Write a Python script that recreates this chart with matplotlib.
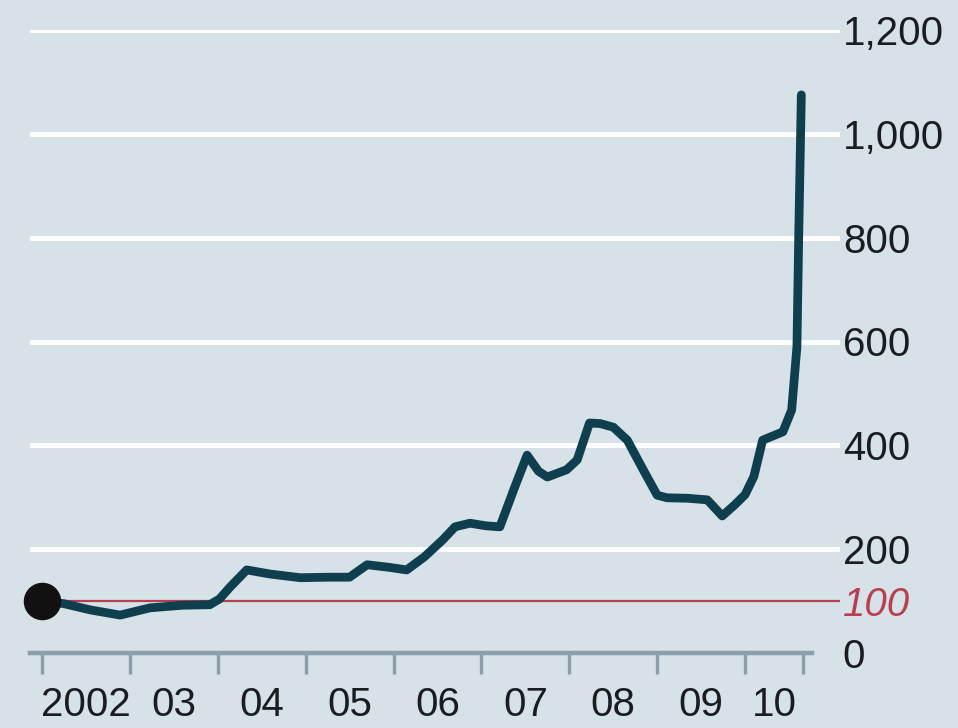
"""Index line chart, 2002 = 100, with the start point marked and a 100 reference line."""

import matplotlib

matplotlib.use("Agg")
import matplotlib.pyplot as plt
import numpy as np

BG = "#d6e1e8"
LINE = "#0f3e4e"
RED = "#b8404e"
AXIS_GREY = "#8e9ea8"
TEXT = "#1a1d20"

# index, 2002 = 100 (decimal years)
years = [
    2002.00, 2002.25, 2002.55, 2002.89, 2003.23, 2003.60, 2003.91, 2004.02, 2004.14, 2004.33,
    2004.60, 2004.94, 2005.25, 2005.50, 2005.70, 2005.95, 2006.15, 2006.35, 2006.56, 2006.70,
    2006.87, 2007.05, 2007.21, 2007.38, 2007.52, 2007.65, 2007.75, 2007.97, 2008.09, 2008.23,
    2008.35, 2008.50, 2008.66, 2008.85, 2009.00, 2009.11, 2009.35, 2009.57, 2009.74, 2009.88,
    2010.00, 2010.10, 2010.20, 2010.43, 2010.53, 2010.59, 2010.61, 2010.64,
]
index = [
    100, 95, 83, 73, 87, 92, 93, 104, 127, 160,
    152, 145, 146, 146, 170, 165, 160, 185, 218, 243,
    250, 245, 243, 320, 381, 350, 339, 353, 372, 443,
    442, 435, 410, 350, 304, 299, 298, 295, 264, 285,
    305, 340, 410, 426, 468, 590, 800, 1075,
]

year_edges = [2002, 2003, 2004, 2005, 2006, 2007, 2008, 2009, 2010, 2010.66]
year_labels = ["2002", "03", "04", "05", "06", "07", "08", "09", "10"]
y_ticks = [0, 200, 400, 600, 800, 1000, 1200]
y_labels = ["0", "200", "400", "600", "800", "1,000", "1,200"]

plt.rcParams["font.family"] = ["Liberation Sans", "DejaVu Sans"]

W, H = 958, 728
fig = plt.figure(figsize=(W / 100, H / 100), dpi=100, facecolor=BG)
ax = fig.add_axes([30 / W, (H - 653) / H, 810 / W, 623 / H], facecolor=BG)

ax.set_xlim(2001.864, 2011.08)
ax.set_ylim(0, 1200)

for v in y_ticks[1:]:
    ax.axhline(v, color="white", lw=3.6, zorder=1)
ax.axhline(100, color=RED, lw=1.6, zorder=2)
ax.axhline(0, xmax=0.965, color=AXIS_GREY, lw=3.2, zorder=2, clip_on=False)

ax.plot(years, index, color=LINE, lw=6.3, solid_joinstyle="round", solid_capstyle="round", zorder=3)
ax.plot(years[0], index[0], "o", color="#111111", ms=26, zorder=4, clip_on=False)

for s in ax.spines.values():
    s.set_visible(False)

# y labels on the right, 100 picked out in red italic
ax.yaxis.tick_right()
ax.set_yticks(y_ticks + [100])
ax.set_yticklabels(y_labels + ["100"])
ax.tick_params(axis="y", length=0, pad=2, labelsize=29, labelcolor=TEXT)
lab100 = ax.get_yticklabels()[-1]
lab100.set_color(RED)
lab100.set_fontstyle("italic")

# year boundaries as ticks, year names centred between them
ax.set_xticks(year_edges)
ax.set_xticklabels([])
mids = [(a + b) / 2 for a, b in zip(year_edges[:-1], year_edges[1:])]
ax.set_xticks(mids, minor=True)
ax.set_xticklabels(year_labels, minor=True)
ax.tick_params(axis="x", which="major", direction="out", length=15, width=2.4, color=AXIS_GREY)
ax.tick_params(axis="x", which="minor", length=0, pad=24, labelsize=29, labelcolor=TEXT)

fig.savefig("out.png", dpi=100, facecolor=BG)
